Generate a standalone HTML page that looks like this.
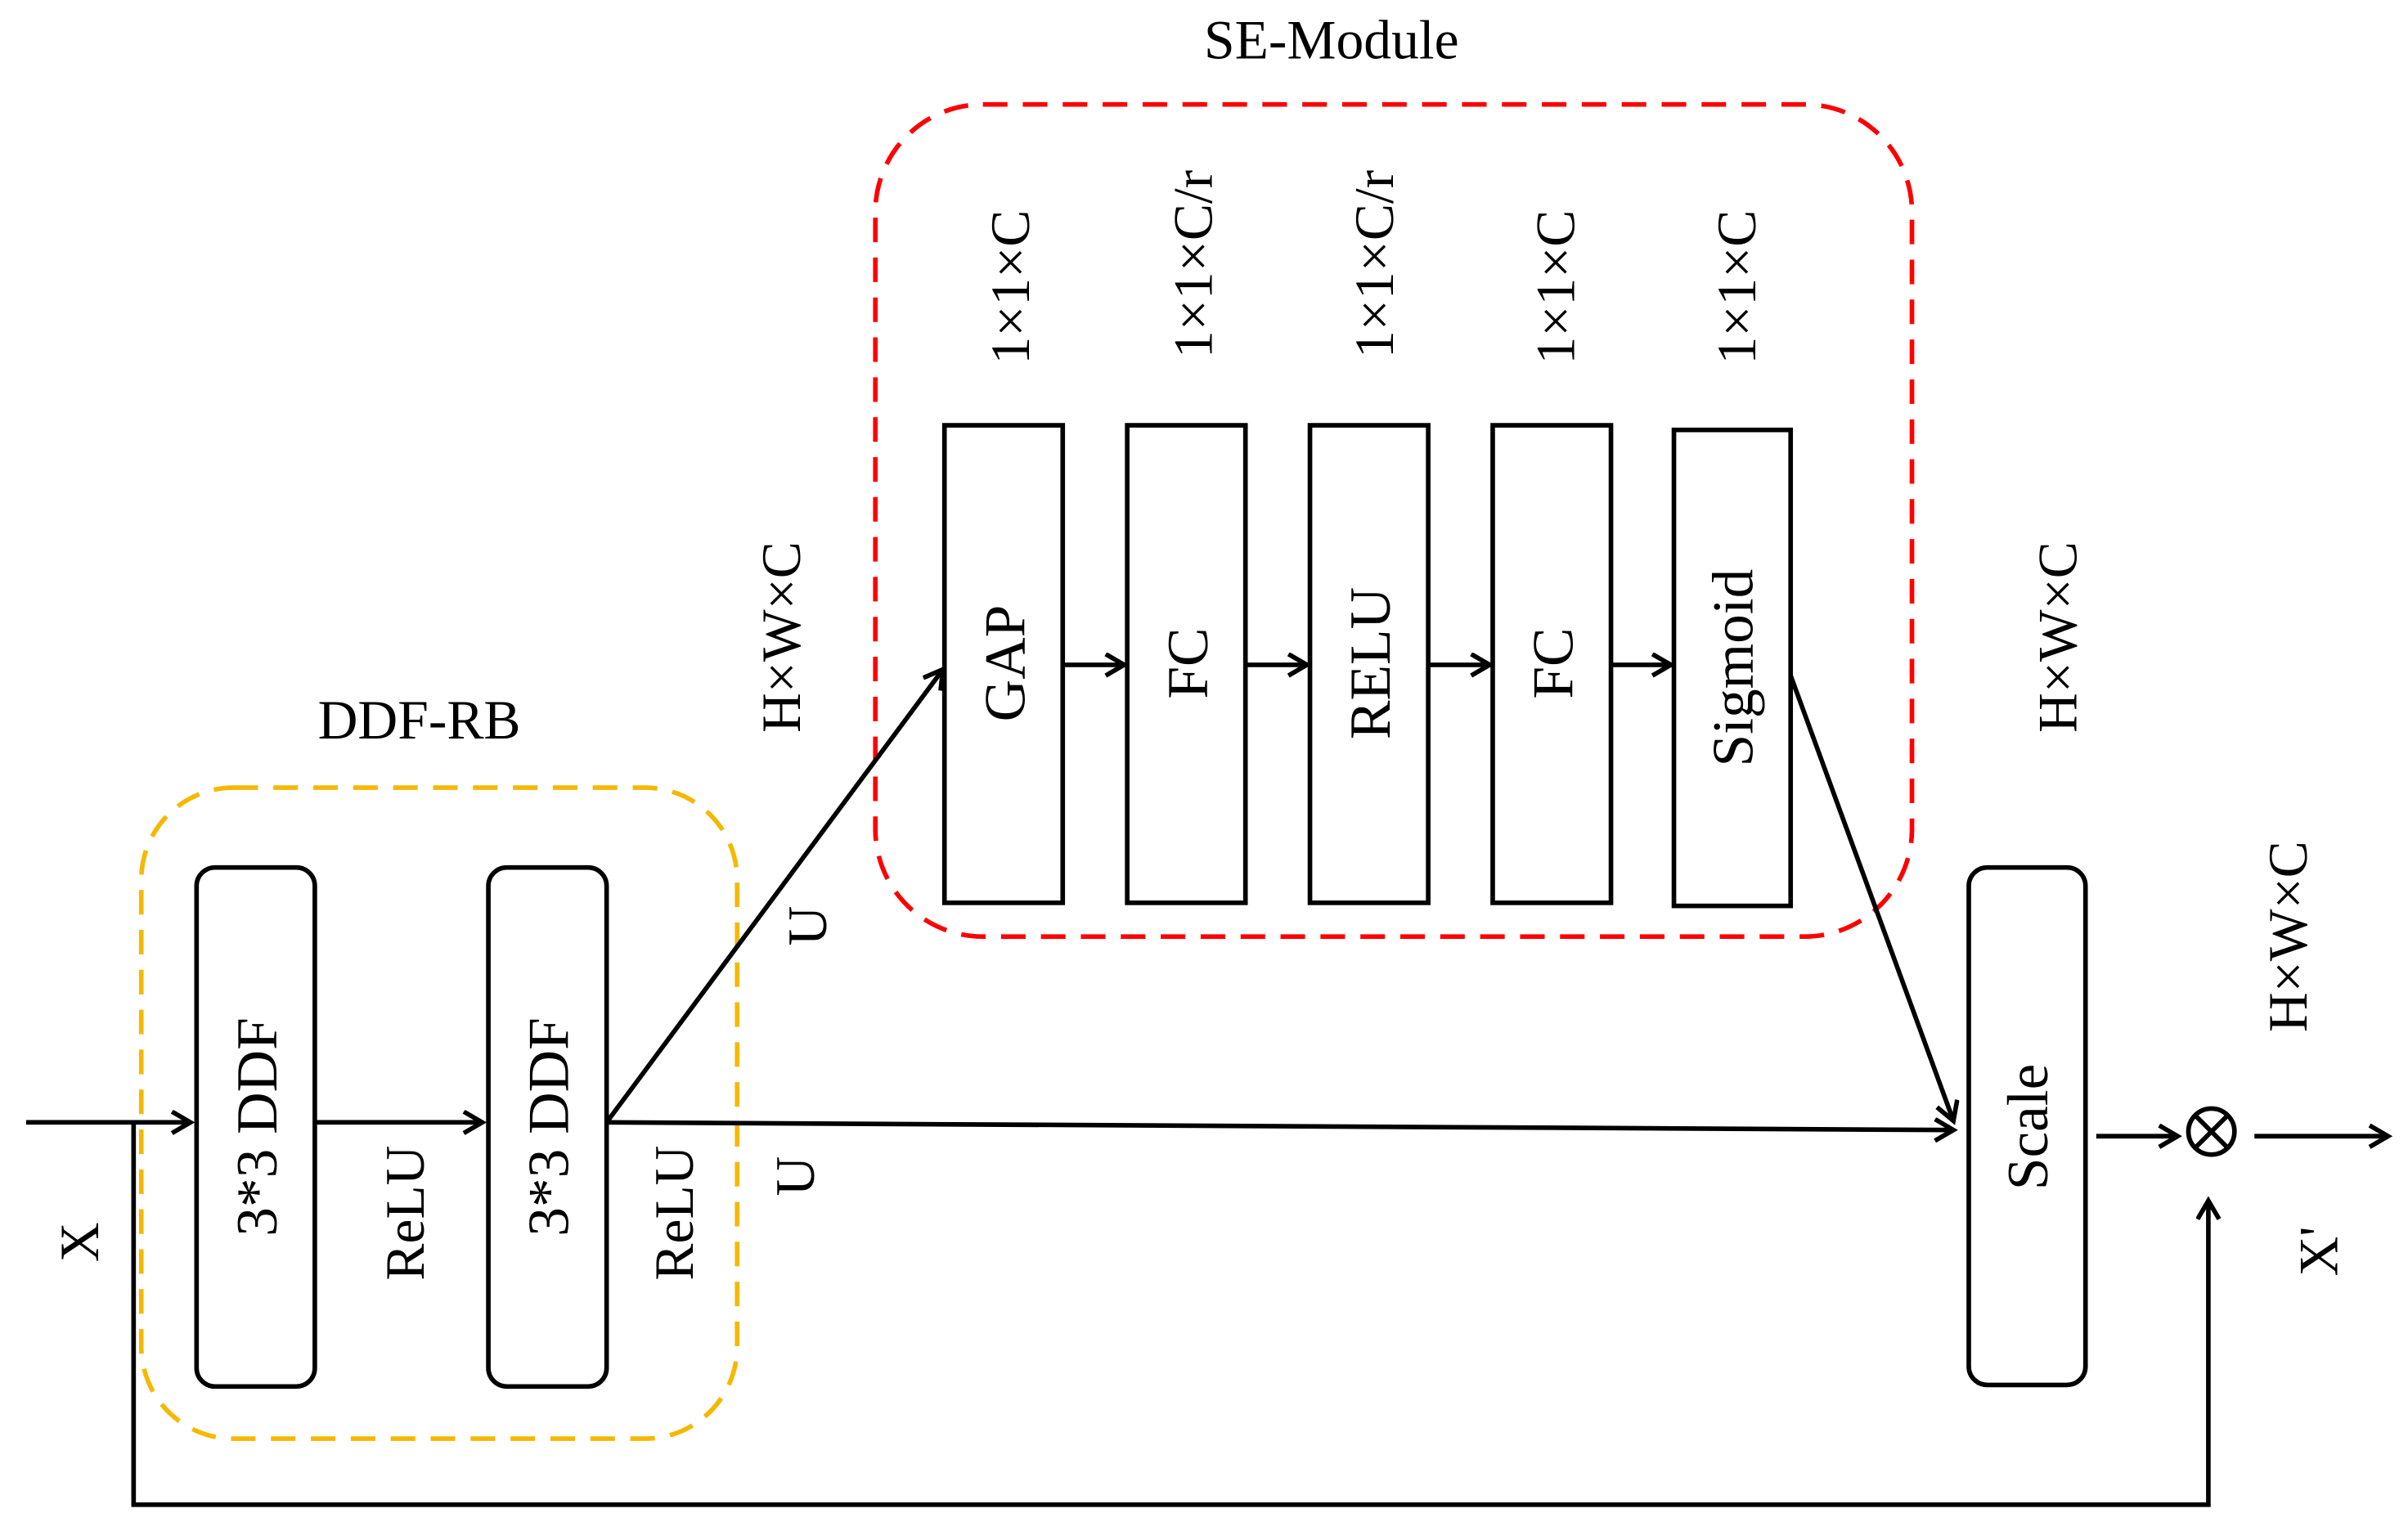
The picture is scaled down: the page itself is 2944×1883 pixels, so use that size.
<!DOCTYPE html>
<html><head><meta charset="utf-8"><style>html,body{margin:0;padding:0;background:#fff}svg{display:block}</style></head>
<body>
<svg width="2944" height="1883" viewBox="0 0 1568 1003" preserveAspectRatio="none" xmlns="http://www.w3.org/2000/svg" font-family="Liberation Serif, serif" fill="#000">
<defs><marker id="a" markerWidth="20" markerHeight="20" refX="14" refY="8" orient="auto" markerUnits="userSpaceOnUse"><path d="M2,1 L14,8 L2,15" fill="none" stroke="#000" stroke-width="3"/></marker></defs>
<g fill="none" stroke-width="3">
<rect x="570" y="68" width="675" height="542" rx="70" stroke="#f00" stroke-dasharray="16,10"/>
<rect x="92" y="513" width="388" height="424" rx="60" stroke="#f5b800" stroke-dasharray="16,10"/>
<g stroke="#000">
<rect x="615" y="277" width="77" height="311"/>
<rect x="734" y="277" width="77" height="311"/>
<rect x="853" y="277" width="77" height="311"/>
<rect x="972" y="277" width="77" height="311"/>
<rect x="1090" y="280" width="76" height="310"/>
<rect x="128" y="565" width="77" height="338" rx="12"/>
<rect x="318" y="565" width="77" height="338" rx="12"/>
<rect x="1282" y="565" width="76" height="337" rx="12"/>
<circle cx="1440" cy="737" r="15"/>
<path d="M1429,726 L1451,748 M1451,726 L1429,748"/>
<line x1="692" y1="433" x2="732" y2="433" marker-end="url(#a)"/>
<line x1="811" y1="433" x2="851" y2="433" marker-end="url(#a)"/>
<line x1="930" y1="433" x2="970" y2="433" marker-end="url(#a)"/>
<line x1="1049" y1="433" x2="1088" y2="433" marker-end="url(#a)"/>
<line x1="17" y1="731" x2="124" y2="731" marker-end="url(#a)"/>
<line x1="205" y1="731" x2="314" y2="731" marker-end="url(#a)"/>
<line x1="395" y1="731" x2="1272" y2="736" marker-end="url(#a)"/>
<line x1="395" y1="731" x2="614" y2="436" marker-end="url(#a)"/>
<line x1="1166" y1="440" x2="1272" y2="730" marker-end="url(#a)"/>
<line x1="1365" y1="740" x2="1418" y2="740" marker-end="url(#a)"/>
<line x1="1468" y1="740" x2="1555" y2="740" marker-end="url(#a)"/>
<polyline points="87,731 87,980 1438,980 1438,782" marker-end="url(#a)"/>
</g></g>
<g font-size="36" text-anchor="middle">
<text x="867" y="38">SE-Module</text>
<text x="273" y="481">DDF-RB</text>
</g>
<g font-size="38" text-anchor="middle">
<text transform="translate(667,432) rotate(-90)">GAP</text>
<text transform="translate(786,432) rotate(-90)">FC</text>
<text transform="translate(905,432) rotate(-90)">RELU</text>
<text transform="translate(1024,432) rotate(-90)">FC</text>
<text transform="translate(1141,435) rotate(-90)">Sigmoid</text>
<text transform="translate(180,734) rotate(-90)">3*3 DDF</text>
<text transform="translate(370,734) rotate(-90)">3*3 DDF</text>
<text transform="translate(1333,734) rotate(-90)">Scale</text>
</g>
<g font-size="36" text-anchor="middle">
<text transform="translate(670,187) rotate(-90)">1×1×C</text>
<text transform="translate(789,172) rotate(-90)">1×1×C/r</text>
<text transform="translate(907,172) rotate(-90)">1×1×C/r</text>
<text transform="translate(1025,187) rotate(-90)">1×1×C</text>
<text transform="translate(1143,187) rotate(-90)">1×1×C</text>
<text transform="translate(521,415) rotate(-90)">H×W×C</text>
<text transform="translate(1352,415) rotate(-90)">H×W×C</text>
<text transform="translate(1502,610) rotate(-90)">H×W×C</text>
<text transform="translate(276,790) rotate(-90)">ReLU</text>
<text transform="translate(451,790) rotate(-90)">ReLU</text>
<text transform="translate(538,603) rotate(-90)">U</text>
<text transform="translate(530,766) rotate(-90)">U</text>
<text transform="translate(64,809) rotate(-90)">X</text>
<text transform="translate(1522,815) rotate(-90)">X'</text>
</g>
</svg>
</body></html>
